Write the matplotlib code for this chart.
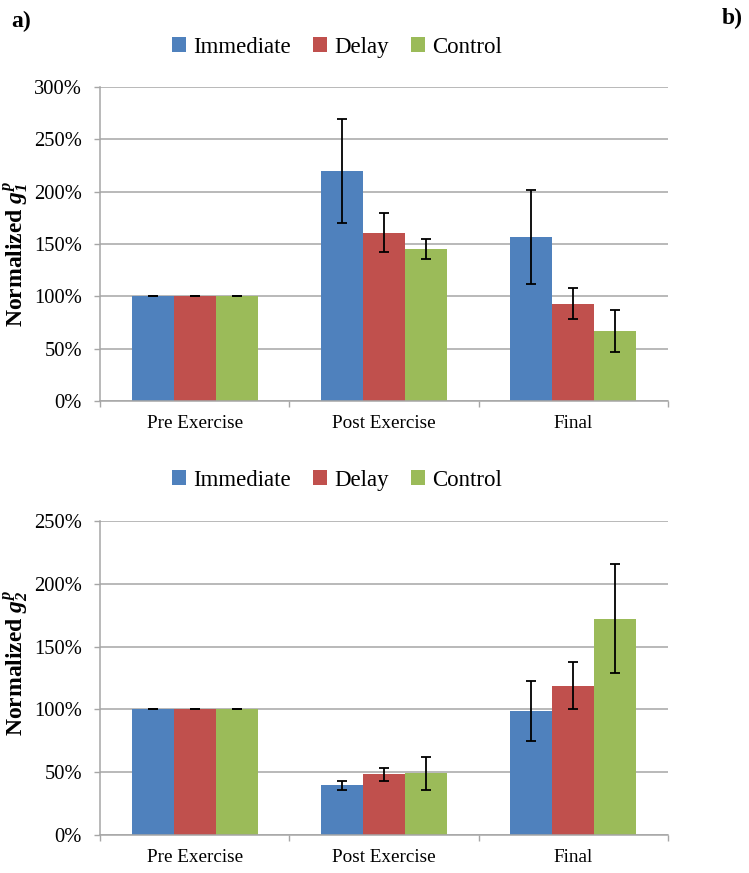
import matplotlib.pyplot as plt
import numpy as np
from matplotlib.patches import Patch
from matplotlib.ticker import FuncFormatter

plt.rcParams['font.family'] = ['Liberation Serif', 'DejaVu Serif']
plt.rcParams['mathtext.fontset'] = 'custom'
plt.rcParams['mathtext.it'] = 'Liberation Serif:italic:bold'
plt.rcParams['mathtext.rm'] = 'Liberation Serif:italic:bold'

# data (percent)
categories = ['Pre Exercise', 'Post Exercise', 'Final']
groups = ['Immediate', 'Delay', 'Control']
colors = ['#4F81BD', '#C0504D', '#9BBB59']

g1_immediate = [100, 220, 157]
g1_delay = [100, 161, 93]
g1_control = [100, 145, 67]
g1_immediate_err = [0, 50, 45]
g1_delay_err = [0, 18.5, 15]
g1_control_err = [0, 9.5, 20.5]

g2_immediate = [100, 39.5, 99]
g2_delay = [100, 48.2, 119]
g2_control = [100, 49, 172]
g2_immediate_err = [0, 3.6, 24]
g2_delay_err = [0, 5.3, 18.5]
g2_control_err = [0, 13.3, 43.4]

GRID = '#A6A6A6'


def draw_panel(ax, series, errs, ymax, label, label_y):
    x = np.arange(len(categories))
    w = 0.222
    for i, (vals, err) in enumerate(zip(series, errs)):
        ax.bar(x + (i - 1) * w, vals, w, color=colors[i], zorder=2)
        ax.errorbar(x + (i - 1) * w, vals, yerr=err, fmt='none', ecolor='black',
                    elinewidth=1.3, capsize=3.5, capthick=1.3, zorder=3)
    ax.set_xlim(-0.5, 2.5)
    ax.set_ylim(0, ymax)
    ax.set_yticks(np.arange(0, ymax + 1, 50))
    ax.yaxis.set_major_formatter(FuncFormatter(lambda v, p: '{:.0f}%'.format(v)))
    ax.set_xticks(x)
    ax.set_xticklabels(categories)
    ax.set_xticks([-0.5, 0.5, 1.5, 2.5], minor=True)
    ax.tick_params(axis='x', which='major', length=0, pad=10, labelsize=13.8)
    ax.tick_params(axis='x', which='minor', length=4, width=1, color=GRID)
    ax.tick_params(axis='y', length=4, width=1, color=GRID, pad=9, labelsize=14.8)
    ax.grid(axis='y', color=GRID, linewidth=1.1)
    ax.set_axisbelow(True)
    for s in ['top', 'right']:
        ax.spines[s].set_visible(False)
    for s in ['left', 'bottom']:
        ax.spines[s].set_color(GRID)
        ax.spines[s].set_linewidth(1.1)
    ax.set_ylabel(label, fontsize=17, fontweight='bold')
    ax.yaxis.set_label_coords(-0.122, label_y)


fig = plt.figure(figsize=(7.49, 8.73), dpi=100)
ax1 = fig.add_axes([0.1335, 0.5405, 0.7585, 0.3597])
ax2 = fig.add_axes([0.1335, 0.0435, 0.7585, 0.3597])

draw_panel(ax1, [g1_immediate, g1_delay, g1_control],
           [g1_immediate_err, g1_delay_err, g1_control_err], 300,
           'Normalized $g_1^p$', 0.47)
draw_panel(ax2, [g2_immediate, g2_delay, g2_control],
           [g2_immediate_err, g2_delay_err, g2_control_err], 250,
           'Normalized $g_2^p$', 0.55)

handles = [Patch(facecolor=c, label=g) for c, g in zip(colors, groups)]
for y in [0.946, 0.45]:
    fig.legend(handles=handles, loc='center', bbox_to_anchor=(0.45, y), ncol=3,
               frameon=False, fontsize=16.5, handlelength=0.6, handleheight=0.6,
               handletextpad=0.3, columnspacing=1.0)

fig.text(0.015, 0.975, 'a)', fontsize=17, fontweight='bold', va='center')
fig.text(0.963, 0.979, 'b)', fontsize=17, fontweight='bold', va='center')

fig.savefig('out.png', dpi=100)
